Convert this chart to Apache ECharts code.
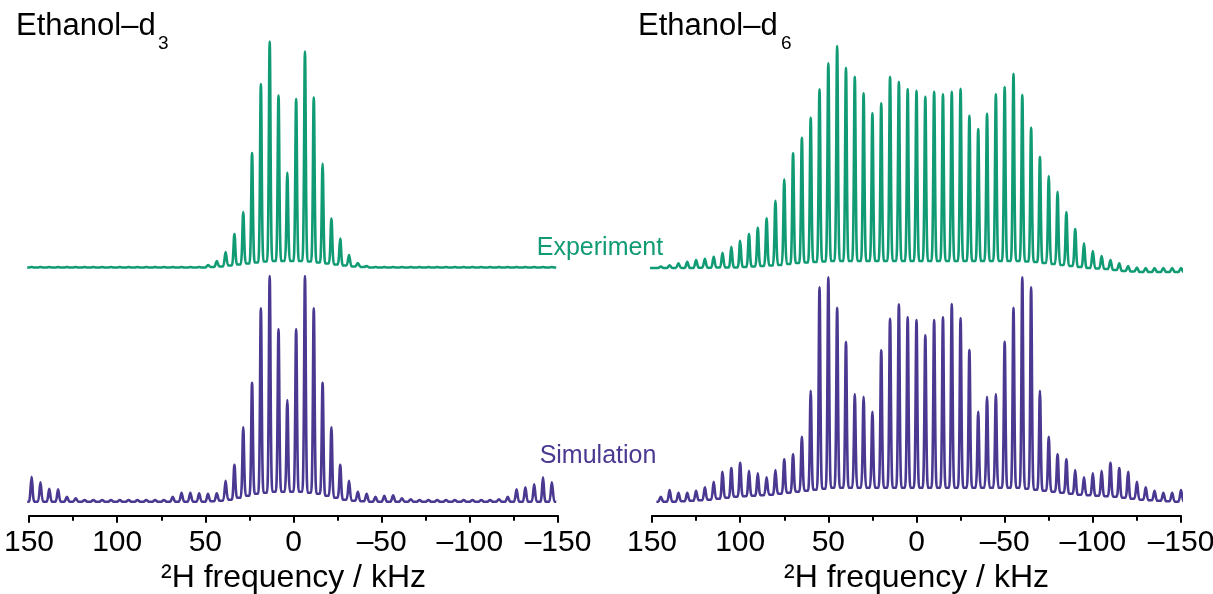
<!DOCTYPE html>
<html>
<head>
<meta charset="utf-8">
<script src="https://cdn.jsdelivr.net/npm/echarts@6/dist/echarts.min.js"></script>
<style>
  html, body { margin: 0; background: #fff; }
  #chart { width: 1213px; height: 594px; }
</style>
</head>
<body>
<div id="chart"></div>
<script>
// sideband positions (kHz) and heights (a.u.)
var d3Pos = [148.5, 143.5, 138.5, 133.5, 128.5, 123.5, 118.5, 113.5, 108.5, 103.5,
  98.5, 93.5, 88.5, 83.5, 78.5, 73.5, 68.5, 63.5, 58.5, 53.5,
  48.5, 43.5, 38.5, 33.5, 28.5, 23.5, 18.5, 13.5, 8.5, 3.5,
  -1.5, -6.5, -11.5, -16.5, -21.5, -26.5, -31.5, -36.5, -41.5, -46.5,
  -51.5, -56.5, -61.5, -66.5, -71.5, -76.5, -81.5, -86.5, -91.5, -96.5,
  -101.5, -106.5, -111.5, -116.5, -121.5, -126.5, -131.5, -136.5, -141.5, -146.5];

var d3ExpPeak = [0.5, 0.5, 0.5, 0.5, 0.5, 0.5, 0.5, 0.5, 0.5, 0.5,
  0.5, 0.5, 0.5, 0.5, 0.5, 0.5, 0.5, 0.5, 0.5, 0.5,
  2.5, 6.5, 15.5, 33.5, 55.5, 114.5, 183.5, 226, 172, 95,
  168.5, 216, 170, 104, 49, 29, 12.5, 4.5, 1.5, 0.5,
  0.5, 0.5, 0.5, 0.5, 0.5, 0.5, 0.5, 0.5, 0.5, 0.5,
  0.5, 0.5, 0.5, 0.5, 0.5, 0.5, 0.5, 0.5, 0.5, 0.5];
var d3ExpValley = [0, 0, 0, 0, 0, 0, 0, 0, 0, 0,
  0, 0, 0, 0, 0, 0, 0, 0, 0, 0,
  0.5, 1, 2, 3, 4, 5, 6, 6.5, 6.5, 6.5,
  6.5, 6, 5, 4, 3, 2, 1, 0.5, 0, 0,
  0, 0, 0, 0, 0, 0, 0, 0, 0, 0,
  0, 0, 0, 0, 0, 0, 0, 0, 0, 0];

var d3SimPeak = [25, 19.5, 13, 12.5, 5, 3.5, 1.7, 1.7, 1.7, 1.7,
  1.7, 1.7, 1.7, 1.7, 1.7, 1.7, 5, 9, 9, 8.5,
  8, 8.5, 21, 37, 74.5, 119, 193.5, 225.7, 172.5, 101.7,
  172.5, 225.7, 193.5, 119, 74.5, 37, 21, 10, 8, 5,
  6, 6.5, 3.5, 2.5, 1.7, 1.7, 1.7, 1.7, 1.7, 1.7,
  1.7, 1.7, 1.7, 2.5, 5, 12.5, 14.5, 17.5, 24.5, 19.5];
var d3SimValley = [0, 0, 0, 0, 0, 0, 0, 0, 0, 0,
  0, 0, 0, 0, 0, 0, 0, 0, 0, 0,
  0.5, 1, 2, 4, 6, 8, 9, 10, 10, 10,
  10, 9, 8, 6, 4, 2, 1, 0.5, 0, 0,
  0, 0, 0, 0, 0, 0, 0, 0, 0, 0,
  0, 0, 0, 0, 0, 0, 0, 0, 0, 0];

var d6Pos = [150, 145, 140, 135, 130, 125, 120, 115, 110, 105,
  100, 95, 90, 85, 80, 75, 70, 65, 60, 55,
  50, 45, 40, 35, 30, 25, 20, 15, 10, 5,
  0, -5, -10, -15, -20, -25, -30, -35, -40, -45,
  -50, -55, -60, -65, -70, -75, -80, -85, -90, -95,
  -100, -105, -110, -115, -120, -125, -130, -135, -140, -145, -150];

var d6ExpPeak = [0, 1.5, 2.7, 4.7, 6.3, 8, 9.3, 11.3, 15.3, 21.3,
  27.3, 34, 40.3, 49.7, 67.3, 88.7, 114.7, 130.3, 150.3, 178.7,
  204.7, 222, 200.3, 191.3, 174.7, 154.7, 164.7, 191.3, 186.3, 179,
  177.3, 171.3, 176.3, 173.7, 176.3, 179.3, 152.3, 139, 154.3, 173.7,
  181, 194.3, 173, 140.3, 111, 92, 76.3, 56, 39, 24.7,
  17, 12, 8, 4.7, 2, 0.5, 0, 0, 0, 0, 0];
var d6ExpValley = [0, 0, 0, 0, 0, 0.3, 0.3, 0.5, 0.5, 0.5,
  1, 1.5, 2, 2.5, 3, 4, 5, 5.5, 6, 6.5,
  7, 7, 7, 7, 7, 7, 7, 7, 7, 7,
  7, 7, 7, 7, 7, 7, 7, 7, 7, 7,
  7, 7, 6.5, 6, 5, 4, 3, 2, 1, 0,
  -0.5, -1, -2, -3, -3.5, -4, -4, -4, -4, -4, -4];

var d6SimPeak = [0, 5, 11.7, 9, 9, 11, 14.4, 20, 30, 33.7,
  39, 31, 28.4, 24.4, 31.7, 42.4, 47.4, 65, 111, 214.4,
  224.4, 194, 159.7, 107.7, 105, 90, 151.4, 183, 197.4, 184.4,
  181.7, 166.4, 181.7, 184.4, 197.7, 183.4, 151.7, 90, 105, 107.7,
  160, 194, 224.4, 214.4, 111, 65, 47.4, 42.4, 31.7, 24.4,
  28.4, 31, 39, 33.7, 30, 20, 14.4, 11, 9, 9, 11.7];
var d6SimValley = [0, 0, 0, 0.5, 1, 1.5, 2, 3, 4, 5,
  5.5, 6, 6.5, 7, 8, 9, 10, 11, 12, 13,
  14, 14, 14, 14, 14, 14, 14, 14, 14, 14,
  14, 14, 14, 14, 14, 14, 14, 14, 14, 14,
  14, 14, 13, 12, 11, 10, 9, 8, 7, 6.5,
  6, 5.5, 5, 4, 3, 2, 1.5, 1, 0.5, 0, 0];

var xTicks = [150, 100, 50, 0, -50, -100, -150];

var green = '#109b74';
var purple = '#4a3891';
var font = '"Liberation Sans", Arial, Helvetica, sans-serif';

// each sideband: narrow peak with feet at +-1.5 kHz, valley level between neighbours
function trace(pos, peak, valley) {
  var half = (pos[0] - pos[1]) / 2;
  var foot = 1.5;
  var pts = [[pos[0] + half, valley[0]]];
  for (var i = 0; i < pos.length; i++) {
    pts.push([pos[i] + foot, i === 0 ? valley[0] : valley[i - 1]]);
    pts.push([pos[i], peak[i]]);
    pts.push([pos[i] - foot, valley[i]]);
  }
  pts.push([pos[pos.length - 1] - half, valley[pos.length - 1]]);
  return pts;
}

function xAxis(grid, show) {
  return {
    type: 'value', gridIndex: grid, min: -150, max: 150, interval: 50, inverse: true,
    show: show,
    axisLine: { show: true, onZero: false, lineStyle: { color: '#000', width: 2 } },
    axisTick: { show: true, inside: false, length: 7, lineStyle: { color: '#000', width: 2 } },
    minorTick: { show: true, splitNumber: 2, length: 5, lineStyle: { color: '#000', width: 2 } },
    splitLine: { show: false },
    axisLabel: {
      color: '#000', fontSize: 30, fontFamily: font, margin: 12,
      formatter: function (v) {
        if (xTicks.indexOf(v) < 0) return '';
        return v < 0 ? '\u2013' + (-v) : String(v);
      }
    },
    name: '\u00b2H frequency / kHz',
    nameLocation: 'middle',
    nameGap: 46,
    nameTextStyle: { color: '#000', fontSize: 32, fontFamily: font }
  };
}

function yAxis(grid, min) {
  return { type: 'value', gridIndex: grid, min: min, max: 230, show: false };
}

function line(idx, data, color) {
  return {
    type: 'line', xAxisIndex: idx, yAxisIndex: idx, data: data,
    showSymbol: false, symbol: 'none', smooth: 0.3,
    lineStyle: { color: color, width: 2.6, join: 'round' },
    silent: true
  };
}

var chart = echarts.init(document.getElementById('chart'));
chart.setOption({
  animation: false,
  backgroundColor: '#fff',
  grid: [
    { left: 29, width: 529, top: 37.5, height: 240, outerBoundsMode: 'none' },
    { left: 29, width: 529, top: 271.7, height: 244, outerBoundsMode: 'none' },
    { left: 652, width: 529, top: 38, height: 240, outerBoundsMode: 'none' },
    { left: 652, width: 529, top: 271.7, height: 244, outerBoundsMode: 'none' }
  ],
  xAxis: [xAxis(0, false), xAxis(1, true), xAxis(2, false), xAxis(3, true)],
  yAxis: [yAxis(0, -10), yAxis(1, -14), yAxis(2, -10), yAxis(3, -14)],
  series: [
    line(0, trace(d3Pos, d3ExpPeak, d3ExpValley), green),
    line(1, trace(d3Pos, d3SimPeak, d3SimValley), purple),
    line(2, trace(d6Pos, d6ExpPeak, d6ExpValley), green),
    line(3, trace(d6Pos.slice(1), d6SimPeak.slice(1), d6SimValley.slice(1)), purple)
  ],
  graphic: [
    { type: 'text', x: 16, y: 26, style: { text: 'Ethanol\u2013d', font: '31px ' + font, fill: '#000', verticalAlign: 'middle' } },
    { type: 'text', x: 158, y: 44, style: { text: '3', font: '19px ' + font, fill: '#000', verticalAlign: 'middle' } },
    { type: 'text', x: 638, y: 26, style: { text: 'Ethanol\u2013d', font: '31px ' + font, fill: '#000', verticalAlign: 'middle' } },
    { type: 'text', x: 781, y: 44, style: { text: '6', font: '19px ' + font, fill: '#000', verticalAlign: 'middle' } },
    { type: 'text', x: 600, y: 248, style: { text: 'Experiment', font: '25px ' + font, fill: green, align: 'center', verticalAlign: 'middle' } },
    { type: 'text', x: 598, y: 456, style: { text: 'Simulation', font: '25px ' + font, fill: purple, align: 'center', verticalAlign: 'middle' } }
  ]
});
</script>
</body>
</html>
